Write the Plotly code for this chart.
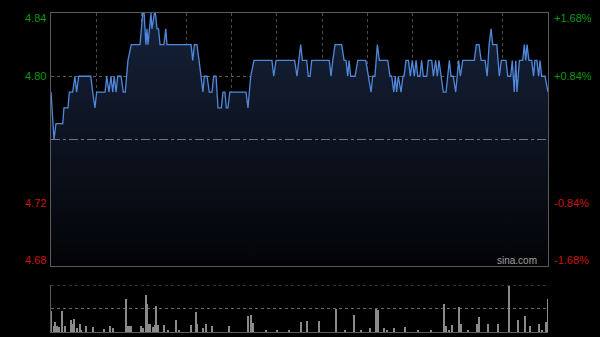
import plotly.graph_objects as go
from plotly.subplots import make_subplots

# ---- data (minute index 0..330 of the HK trading session) ----
price_minutes = [0, 2, 3.3, 7.8, 8.6, 11.3, 12.2, 14.4, 15.9, 17, 18.4, 26.4, 27.7, 29.2, 30.3, 35.9,
                 37, 38.5, 39.8, 41, 42, 43.2, 44.3, 46.5, 48, 49.3, 51.1, 53.3, 59.1, 60.9, 61.8,
                 63, 63.7, 64.4, 66.4, 67, 68.7, 69.3, 70.4, 71.4, 72.4, 75, 76.2, 77, 93, 94.1,
                 95.2, 96.9, 98.3, 99.6, 100.9, 101.8, 103.6, 105.1, 106.9, 108, 109.6, 110.9,
                 113.1, 114.2, 115.5, 116.4, 117.5, 118.7, 129.5, 130.8, 132.6, 134.8, 146.7,
                 147.9, 149.4, 161.8, 163.3, 165.8, 166.9, 169.8, 170.8, 172, 173.1, 184.8, 185.9,
                 187.1, 188.6, 193, 194.6, 195.9, 197, 197.9, 199, 201.9, 203.7, 209, 210.7, 212.5,
                 213.6, 215.1, 216.7, 218, 223.6, 225.1, 226.2, 227.6, 228.6, 229.5, 230.6, 232.4,
                 233.7, 234.4, 235.7, 237.3, 238.6, 239.9, 241.2, 242.4, 243.5, 245, 246.1, 247.2,
                 249.5, 250.5, 252.8, 253.9, 255.4, 256.5, 257.6, 258.8, 260.5, 262.3, 263.2,
                 264.5, 265.6, 267.1, 268.7, 269.6, 270.7, 271.8, 273.4, 281.1, 282.4, 284.2,
                 285.6, 288.2, 289.6, 290.9, 292.2, 293.3, 296, 297.7, 299, 302.1, 303.3, 305.2,
                 306.3, 307.6, 308.6, 309.4, 310.3, 311, 313.2, 314.3, 315.2, 316.1, 317.3, 319.2,
                 320.4, 321.3, 322.6, 323.8, 324.7, 325.8, 328, 330]
prices = [4.79, 4.76, 4.77, 4.77, 4.78, 4.78, 4.79, 4.79, 4.80, 4.79, 4.80, 4.80, 4.79, 4.78, 4.79, 4.79,
          4.80, 4.79, 4.80, 4.79, 4.80, 4.79, 4.80, 4.80, 4.79, 4.79, 4.81, 4.82, 4.82, 4.84, 4.84,
          4.82, 4.83, 4.82, 4.84, 4.83, 4.84, 4.84, 4.83, 4.83, 4.82, 4.82, 4.83, 4.82, 4.82, 4.81,
          4.82, 4.82, 4.81, 4.80, 4.79, 4.80, 4.80, 4.79, 4.79, 4.80, 4.80, 4.78,
          4.78, 4.79, 4.79, 4.78, 4.78, 4.79, 4.79, 4.78, 4.80, 4.81, 4.81,
          4.80, 4.81, 4.81, 4.80, 4.82, 4.81, 4.81, 4.80, 4.80, 4.81, 4.81, 4.80,
          4.81, 4.82, 4.82, 4.81, 4.81, 4.80, 4.81, 4.80, 4.80, 4.81, 4.81, 4.80, 4.79,
          4.80, 4.80, 4.82, 4.81, 4.81, 4.80, 4.80, 4.79, 4.80, 4.79, 4.80, 4.79,
          4.80, 4.80, 4.81, 4.81, 4.80, 4.81, 4.80, 4.81, 4.80, 4.80, 4.81, 4.80,
          4.80, 4.81, 4.81, 4.80, 4.81, 4.80, 4.81, 4.80, 4.79, 4.79, 4.80,
          4.81, 4.80, 4.80, 4.79, 4.80, 4.81, 4.80, 4.81, 4.81, 4.82, 4.82,
          4.81, 4.81, 4.80, 4.82, 4.83, 4.82, 4.82, 4.80, 4.81, 4.81, 4.80, 4.80,
          4.81, 4.79, 4.81, 4.79, 4.80, 4.81, 4.81, 4.82, 4.81, 4.82, 4.81, 4.81,
          4.80, 4.81, 4.81, 4.80, 4.81, 4.80, 4.80, 4.79]

vol_minutes = [0, 2, 3, 4, 5, 7, 9, 13, 14, 15, 17, 19, 20, 23, 28, 35, 39, 41, 50, 51, 52, 53, 60, 61,
               63, 64, 65, 66, 68, 69, 70, 71, 75, 78, 83, 85, 93, 96, 97, 101, 103, 107, 118, 131,
               133, 134, 143, 150, 158, 166, 170, 178, 189, 195, 201, 206, 212, 216, 217, 221, 223,
               228, 235, 244, 252, 261, 262, 264, 266, 271, 272, 277, 283, 284, 290, 297, 304, 310,
               315, 318, 324, 326, 329, 330]
volumes = [44, 13, 22, 12, 10, 44, 13, 25, 18, 28, 8, 18, 5, 12, 10, 6, 12, 8, 71, 13, 12, 12, 13, 8,
           78, 59, 18, 18, 10, 15, 55, 15, 15, 5, 26, 4, 15, 42, 18, 8, 18, 13, 12, 33,
           36, 20, 5, 4, 4, 22, 24, 24, 49, 4, 37, 4, 8, 49, 46, 8, 5,
           8, 10, 4, 4, 59, 12, 5, 14, 53, 18, 4, 18, 32, 18, 17, 98, 25,
           33, 12, 18, 4, 22, 70]

prev_close = 4.76
left_ticks = [4.84, 4.80, 4.72, 4.68]
left_text = ["4.84", "4.80", "4.72", "4.68"]
right_text = ["+1.68%", "+0.84%", "-0.84%", "-1.68%"]
label_colors = ["#0b9a0b", "#0b9a0b", "#c8140c", "#c8140c"]
label_shift = [-5, 0, 0, 6]

fig = make_subplots(rows=2, cols=1, shared_xaxes=False, vertical_spacing=0.0,
                    row_heights=[0.8, 0.2])

# baseline for fill
fig.add_trace(go.Scatter(x=[0, 330], y=[4.68, 4.68], mode="lines",
                         line=dict(width=0, color="rgba(0,0,0,0)"),
                         hoverinfo="skip", showlegend=False), row=1, col=1)
fig.add_trace(go.Scatter(x=price_minutes, y=prices, mode="lines",
                         line=dict(color="#5088dc", width=1.3),
                         fill="tonexty",
                         fillgradient=dict(type="vertical",
                                           colorscale=[[0, "rgb(3,4,6)"], [1, "rgb(22,34,58)"]]),
                         showlegend=False), row=1, col=1)

fig.add_trace(go.Bar(x=vol_minutes, y=volumes, width=0.7,
                     marker=dict(color="#8a8a8a", line=dict(width=0)),
                     showlegend=False), row=2, col=1)

H = 337
t, b = 13, 5
ph = H - t - b
main_dom = [(332 - 266) / ph, 1.0]
vol_dom = [0.0, (332 - 285) / ph]

grid_col = "#4a4a4a"
fig.update_layout(
    width=600, height=337,
    margin=dict(l=51, r=52, t=t, b=b),
    paper_bgcolor="#000000", plot_bgcolor="#000000",
    font=dict(family="Liberation Sans, Arial, sans-serif", size=11),
    bargap=0,
    xaxis=dict(domain=[0, 1], range=[0, 330], tickvals=list(range(30, 330, 30)),
               showticklabels=False, ticks="", showgrid=True, gridcolor=grid_col,
               griddash="dot", gridwidth=1, zeroline=False,
               showline=True, linecolor="#5a5a5a", linewidth=1, mirror=True),
    yaxis=dict(domain=main_dom, range=[4.68, 4.84], tickvals=[4.72, 4.80],
               showticklabels=False, ticks="", showgrid=True, gridcolor="#5e5e5e",
               griddash="dot", zeroline=False,
               showline=True, linecolor="#5a5a5a", linewidth=1, mirror=True),
    xaxis2=dict(domain=[0, 1], range=[0, 330], showticklabels=False, ticks="",
                showgrid=False, zeroline=False,
                showline=True, linecolor="#5a5a5a", linewidth=1, mirror=False),
    yaxis2=dict(domain=vol_dom, range=[0, 100], tickvals=[50],
                showticklabels=False, ticks="", showgrid=True, gridcolor="#666666",
                griddash="dot", zeroline=False,
                showline=True, linecolor="#5a5a5a", linewidth=1, mirror=False),
)

# prev close reference line
fig.add_shape(type="line", xref="x", yref="y", x0=0, x1=330, y0=prev_close, y1=prev_close,
              line=dict(color="#6e7686", width=1, dash="dashdot"))
# volume panel top dotted line
fig.add_shape(type="line", xref="x2", yref="y2", x0=0, x1=330, y0=100, y1=100,
              line=dict(color="#666666", width=1, dash="dot"))

for v, lt, rt, c, s in zip(left_ticks, left_text, right_text, label_colors, label_shift):
    fig.add_annotation(x=0, xref="paper", y=v, yref="y", text=lt, showarrow=False,
                       xanchor="right", xshift=-3, yshift=s,
                       font=dict(color=c, size=11, family="Liberation Sans, Arial, sans-serif"))
    fig.add_annotation(x=1, xref="paper", y=v, yref="y", text=rt, showarrow=False,
                       xanchor="left", xshift=4, yshift=s,
                       font=dict(color=c, size=11, family="Liberation Sans, Arial, sans-serif"))

fig.add_annotation(x=0.98, xref="paper", y=4.68, yref="y", text="sina.com", showarrow=False,
                   xanchor="right", yanchor="bottom", yshift=-2, xshift=1,
                   font=dict(color="#a0a0a0", size=10, family="Liberation Sans, Arial, sans-serif"))

fig.write_html("out.html")
